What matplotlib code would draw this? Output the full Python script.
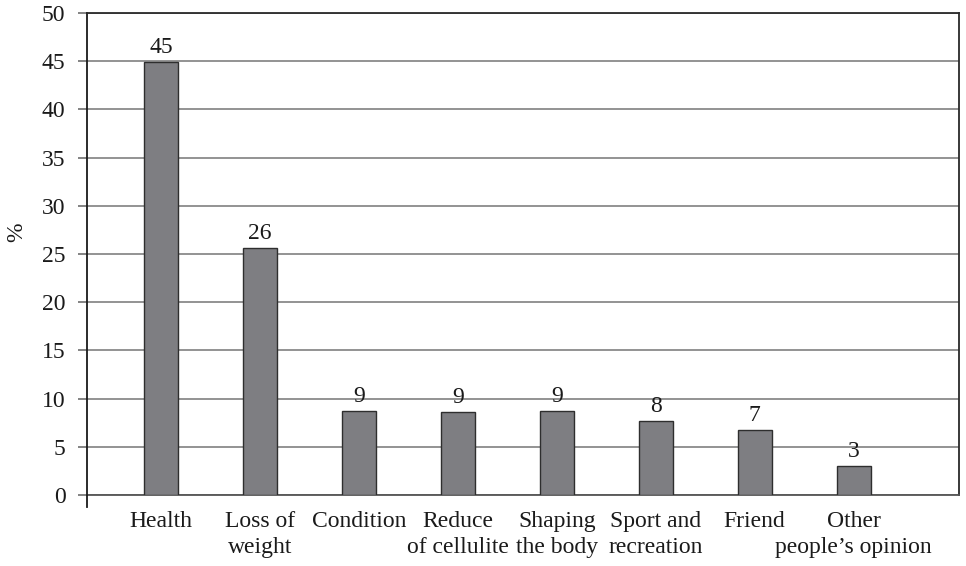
import matplotlib
matplotlib.use("Agg")
import matplotlib.pyplot as plt
from matplotlib.lines import Line2D

categories = ["Health", "Loss of\nweight", "Condition", "Reduce\nof cellulite",
              "Shaping\nthe body", "Sport and\nrecreation", "Friend",
              "Other\npeople\u2019s opinion"]
values = [44.9, 25.6, 8.7, 8.6, 8.7, 7.7, 6.7, 3.0]
labels = ["45", "26", "9", "9", "9", "8", "7", "3"]
yticks = [0, 5, 10, 15, 20, 25, 30, 35, 40, 45, 50]

plt.rcParams['font.family'] = ['Liberation Serif', 'DejaVu Serif']

fig = plt.figure(figsize=(9.66, 5.66), dpi=100)
ax = fig.add_axes([87/966, 1-495/566, (959-87)/966, (495-13)/566])

x = list(range(len(categories)))
ax.bar(x, values, width=0.345, color="#7e7e82", edgecolor="#2e2e2e", linewidth=1.0, zorder=3)
for xi, v, lab in zip(x, values, labels):
    ax.annotate(lab, (xi, v), xytext=(0, 3), textcoords="offset points",
                ha="center", va="bottom", fontsize=17, color="#1a1a1a", zorder=4)

ax.set_ylim(0, 50)
ax.set_xlim(-0.751, 8.066)
ax.set_yticks(yticks)
ax.set_yticklabels([str(t) for t in yticks], fontsize=17, color="#1a1a1a")
ax.set_xticks(x)
ax.set_xticklabels([""] * len(x))
ax.tick_params(axis="x", length=0)
ax.tick_params(axis="y", length=6.5, width=1.2, color="#6e6e6e", pad=9)

# category labels, one text per line
xtrans = ax.get_xaxis_transform()
for xi, cat in zip(x, categories):
    for k, line in enumerate(cat.split("\n")):
        ax.annotate(line, (xi, 0), xycoords=xtrans,
                    xytext=(0, -23 - 18.8 * k), textcoords="offset points",
                    ha="center", va="baseline", fontsize=17, color="#1a1a1a",
                    annotation_clip=False)

ax.yaxis.grid(True, color="#8a8a8a", linewidth=1.3, zorder=0)
ax.set_axisbelow(True)

for side in ["top", "right"]:
    ax.spines[side].set_color("#2a2a2a")
    ax.spines[side].set_linewidth(1.3)
ax.spines["left"].set_color("#1a1a1a")
ax.spines["left"].set_linewidth(1.3)
ax.spines["bottom"].set_color("#555555")
ax.spines["bottom"].set_linewidth(1.3)

# small extension of left axis below zero
ext = Line2D([87/966, 87/966], [1-495/566, 1-507/566], transform=fig.transFigure,
             color="#1a1a1a", linewidth=1.3)
fig.add_artist(ext)

fig.text(17/966, 1-232/566, "%", rotation=90, fontsize=17, ha="center", va="center",
         color="#1a1a1a")

fig.savefig("out.png", dpi=100, facecolor="white")
